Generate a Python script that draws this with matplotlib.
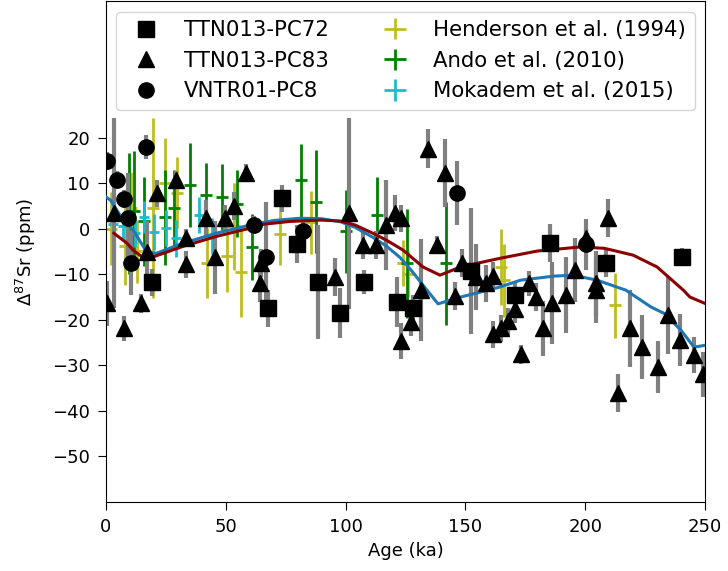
import matplotlib
matplotlib.use('Agg')
import matplotlib.pyplot as plt
import numpy as np

# TTN013-PC72 (squares)
pc72_age = [19.2, 67.6, 73.5, 79.7, 88.5, 97.7, 107.7, 121.4, 128.1, 152.3, 170.7, 185.3, 208.7, 240.4]
pc72_val = [-11.8, -17.5, 6.7, -3.4, -11.7, -18.6, -11.7, -16.1, -17.5, -9.3, -14.6, -3.2, -7.5, -6.2]
pc72_err = [3, 4, 3, 4.2, 12.6, 5.5, 2.7, 5.5, 3, 13.8, 3, 4.2, 3, 2]

# TTN013-PC83 (triangles)
pc83_age = [0.4, 3.3, 7.5, 14.6, 17.1, 21.3, 29.2, 33.4, 33.4, 41.7, 45.5, 49.7, 53.4, 58.4,
            64.3, 64.7, 95.6, 101.4, 107.3, 112.7, 116.9, 120.6, 123.1, 123.1, 127.3, 131.5,
            134.4, 138.1, 141.5, 145.7, 148.6, 154.4, 158.6, 161.5, 161.5, 164.9, 167.8, 170.7,
            173.2, 176.5, 179.5, 182.4, 186.1, 192.0, 195.7, 200.3, 204.5, 204.5, 209.5, 213.7,
            218.7, 223.7, 230.4, 234.6, 239.6, 245.4, 249.2]
pc83_val = [-16.4, 3.4, -21.9, -16.4, -5.2, 7.8, 10.7, -7.8, -2.1, 2.3, -6.3, 2.3, 5.0, 12.2,
            -12.0, -7.5, -10.6, 3.4, -3.6, -3.6, 0.8, 3.4, 2.3, -24.7, -20.5, -13.5,
            17.6, -3.6, 12.2, -14.8, -7.5, -10.6, -12.0, -10.4, -23.2, -21.9, -20.3, -17.7,
            -27.6, -12.0, -15.0, -21.9, -16.4, -14.6, -9.1, -2.1, -12.0, -13.5, 2.3, -36.1,
            -21.9, -26.0, -30.3, -19.0, -24.4, -27.7, -32.0]
pc83_err = [5, 20.8, 2.7, 2, 7, 3, 2, 3, 2, 4, 8, 3, 3, 2,
            4, 3, 4.2, 21, 3, 3, 9.9, 4, 3, 4, 3, 11.2,
            4.2, 2, 7.5, 3, 3, 7.3, 4, 3, 3, 3, 3, 3,
            2, 2.7, 3, 6, 9, 8.4, 7, 2, 7.1, 7.1, 4.2, 4.2,
            8.4, 7, 5.7, 8.4, 5.7, 4, 5]

# VNTR01-PC8 (circles)
pc8_age = [0.4, 4.6, 7.5, 9.2, 10.4, 16.7, 61.8, 66.8, 82.2, 146.5, 200.3]
pc8_val = [14.8, 10.7, 6.5, 2.3, -7.6, 17.9, 0.8, -6.2, -0.5, 7.8, -3.4]
pc8_err = [2, 2, 2, 10, 7, 2.7, 2, 12, 3, 7, 5.6]

# Henderson et al. (1994)
hen_age = [2, 8, 10.5, 13, 19.7, 24.6, 29.6, 42, 50.5, 53.4, 56.3, 72.6, 85.6, 124, 126, 165, 166, 212.5]
hen_val = [0, -3.8, 4.5, -5, 4.5, 10, 7.9, -7.6, -6, 0.5, -9.6, -1.2, 1.4, -7.5, -10, -8.4, -11.3, -16.8]
hen_xerr = [2.5] * len(hen_age)
hen_yerr = [8, 8.6, 8, 7, 19.7, 10, 7.8, 7.7, 7.8, 9.5, 9.7, 6.8, 6.9, 5, 5, 8.4, 8, 7.1]

# Ando et al. (2010)
ando_age = [9.5, 11.5, 15.8, 24.8, 28.5, 35, 41.7, 48.4, 54.7, 61, 81.4, 87.6, 100, 113, 125.6, 142]
ando_val = [3.4, 4, 1.6, 2.5, 4.5, 9.6, 7.4, 7, 5.5, -4, 10.6, 5.9, -0.6, 3, -7.6, -7.6]
ando_xerr = [2.5] * len(ando_age)
ando_yerr = [13.3, 13, 9.7, 10.4, 8.4, 9.2, 7, 7.3, 7.3, 7.3, 8.1, 11.3, 9.1, 8.4, 12, 13.5]

# Mokadem et al. (2015)
mok_age = [3, 7, 12, 15.9, 20, 25, 29.2, 38.8, 44.2]
mok_val = [1, 0.5, -1, 2.5, -0.7, 0.1, -2.1, 3, -1.6]
mok_xerr = [2] * len(mok_age)
mok_yerr = [3, 3, 3, 3.5, 4, 4, 4, 4, 4]

# model curves
blue_age = [0, 2, 5.8, 11.3, 17, 21, 32, 46, 60, 70, 81, 90, 98, 104, 111.4, 117, 122.7, 128, 132.3,
            138.6, 146.5, 154.8, 164.4, 173, 187, 195, 205, 217, 227.5, 233, 240, 245.4, 250]
blue_val = [7, 6.2, 3, -0.3, -5.1, -5.4, -3.2, -1, 0.8, 1.8, 2.3, 2.2, 1.5, 0.3, -1.9, -3.8, -6.3, -9.5,
            -12.4, -16.5, -15.2, -14.1, -12.8, -11.3, -10.4, -10.2, -11.3, -13.5, -17.2, -18.6, -22.3, -26, -25.6]
red_age = [3.3, 8.8, 11.3, 15.4, 19.6, 32, 46, 60, 66, 76.8, 89.7, 97.7, 104, 111.4, 117, 124, 132.3,
           139.4, 146.5, 154.8, 164.4, 180, 188, 198, 208, 220, 230, 235.4, 241, 243.7, 250]
red_val = [-1, -3.2, -4.7, -6.3, -6.2, -3.9, -1.7, 0.1, 1.0, 1.6, 1.9, 1.7, 0.8, -1.0, -2.5, -4.7, -8.4,
           -10.2, -8.7, -7.6, -6.5, -4.9, -4.5, -4.0, -4.3, -5.8, -8.4, -10.9, -13.5, -15, -16.4]

fig = plt.figure(figsize=(7.28, 5.71), dpi=100)
ax = fig.add_axes([0.1456, 0.1208, 0.8228, 0.8775])

ax.errorbar(hen_age, hen_val, xerr=hen_xerr, yerr=hen_yerr, fmt='none', ecolor='#bcbd22',
            elinewidth=2, zorder=1, label='Henderson et al. (1994)')
ax.errorbar(ando_age, ando_val, xerr=ando_xerr, yerr=ando_yerr, fmt='none', ecolor='green',
            elinewidth=2, zorder=1, label='Ando et al. (2010)')
ax.errorbar(mok_age, mok_val, xerr=mok_xerr, yerr=mok_yerr, fmt='none', ecolor='#17becf',
            elinewidth=2, zorder=1, label='Mokadem et al. (2015)')

for a, v, e in [(pc72_age, pc72_val, pc72_err), (pc83_age, pc83_val, pc83_err), (pc8_age, pc8_val, pc8_err)]:
    ax.errorbar(a, v, yerr=e, fmt='none', ecolor='gray', elinewidth=3, zorder=2)

ax.plot(blue_age, blue_val, color='#1f77b4', lw=2.2, zorder=3)
ax.plot(red_age, red_val, color='darkred', lw=2.2, zorder=3)

ax.plot(pc72_age, pc72_val, 's', color='k', ms=11, ls='none', zorder=4, label='TTN013-PC72')
ax.plot(pc83_age, pc83_val, '^', color='k', ms=11, ls='none', zorder=4, label='TTN013-PC83')
ax.plot(pc8_age, pc8_val, 'o', color='k', ms=11, ls='none', zorder=4, label='VNTR01-PC8')

ax.legend(ncol=2, loc='upper center', fontsize=15.3, columnspacing=2.1)

ax.set_xlim(0, 250)
ax.set_ylim(-60, 50)
ax.set_yticks(np.arange(-50, 30, 10))
ax.tick_params(labelsize=13, length=6, pad=5.5)
ax.set_xlabel('Age (ka)', fontsize=13)
ax.set_ylabel(r'$\Delta^{87}$Sr (ppm)', fontsize=13, labelpad=10)

fig.savefig('out.png', dpi=100)
